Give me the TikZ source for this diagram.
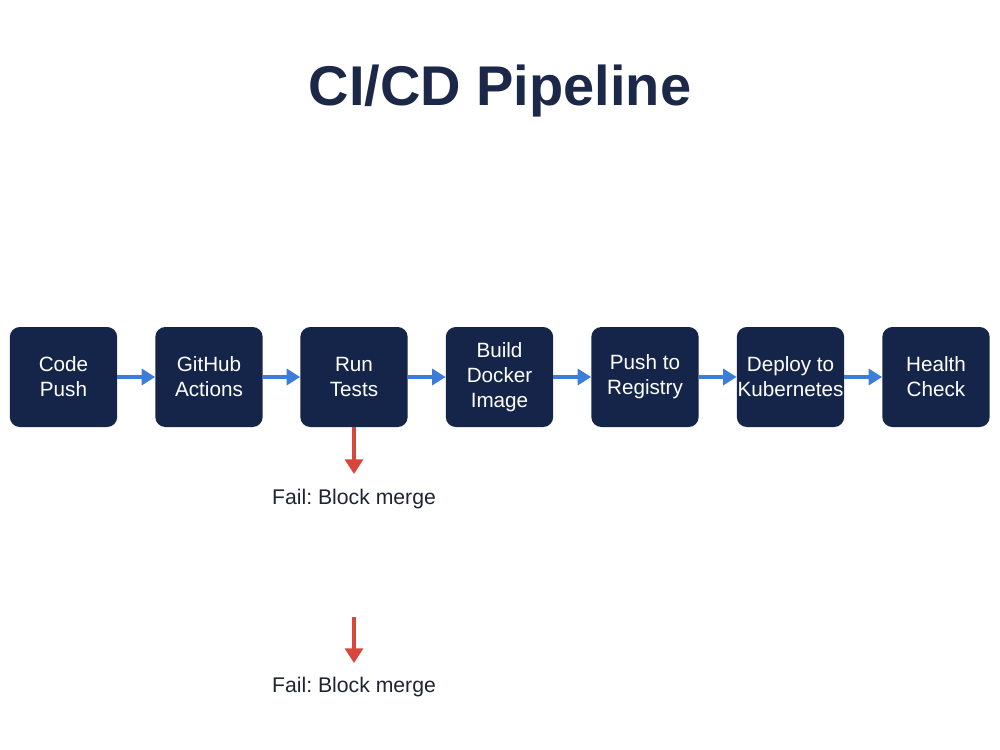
\documentclass[tikz,border=0pt]{standalone}
\usepackage{fontspec}
\setmainfont{Liberation Sans}
\usetikzlibrary{arrows.meta}
\frenchspacing
\definecolor{navy}{HTML}{15254A}
\definecolor{titleink}{HTML}{1B2848}
\definecolor{flowblue}{HTML}{3B7DD8}
\definecolor{failred}{HTML}{D9453A}
\definecolor{ink}{HTML}{1E2433}
\tikzset{
  stage/.style={fill=navy, rounded corners=7.5pt, minimum width=80.5pt, minimum height=75pt,
    inner sep=0pt, text=white, align=center, font=\fontsize{15.5}{18.75}\selectfont},
  flow/.style={draw=flowblue, line width=2.3pt, -{Triangle[length=10pt,width=12pt]}},
  failflow/.style={draw=failred, line width=2.3pt, -{Triangle[length=11pt,width=13.5pt]}},
  failnote/.style={text=ink, font=\fontsize{15.9}{19}\selectfont},
}
\begin{document}
\begin{tikzpicture}[x=0.75pt,y=-0.75pt]
\useasboundingbox (0,0) rectangle (1000,750);
\fill[white] (0,0) rectangle (1000,750);
\node[text=titleink, font=\fontsize{42}{50}\selectfont\bfseries] (title) at (500,91) {CI/CD Pipeline};

\node[stage] (push)   at (63.5,377)  {Code\\Push};
\node[stage] (gha)    at (209,377)   {GitHub\\Actions};
\node[stage] (tests)  at (354,377)   {Run\\Tests};
\node[stage] (docker) at (499.5,377) {Build\\Docker\\Image};
\node[stage] (reg)    at (645,377)   {Push to\\Registry};
\node[stage] (k8s)    at (790.5,377) {Deploy to\\Kubernetes};
\node[stage] (health) at (936,377)   {Health\\Check};

\draw[flow] (push) -- (gha);
\draw[flow] (gha) -- (tests);
\draw[flow] (tests) -- (docker);
\draw[flow] (docker) -- (reg);
\draw[flow] (reg) -- (k8s);
\draw[flow] (k8s) -- (health);

\node[failnote] (fail1) at (354,499) {Fail: Block merge};
\draw[failflow] (tests.south) -- (354,474);

\coordinate (fail2top) at (354,617);
\node[failnote] (fail2) at (354,687) {Fail: Block merge};
\draw[failflow] (fail2top) -- (354,663);
\end{tikzpicture}
\end{document}
